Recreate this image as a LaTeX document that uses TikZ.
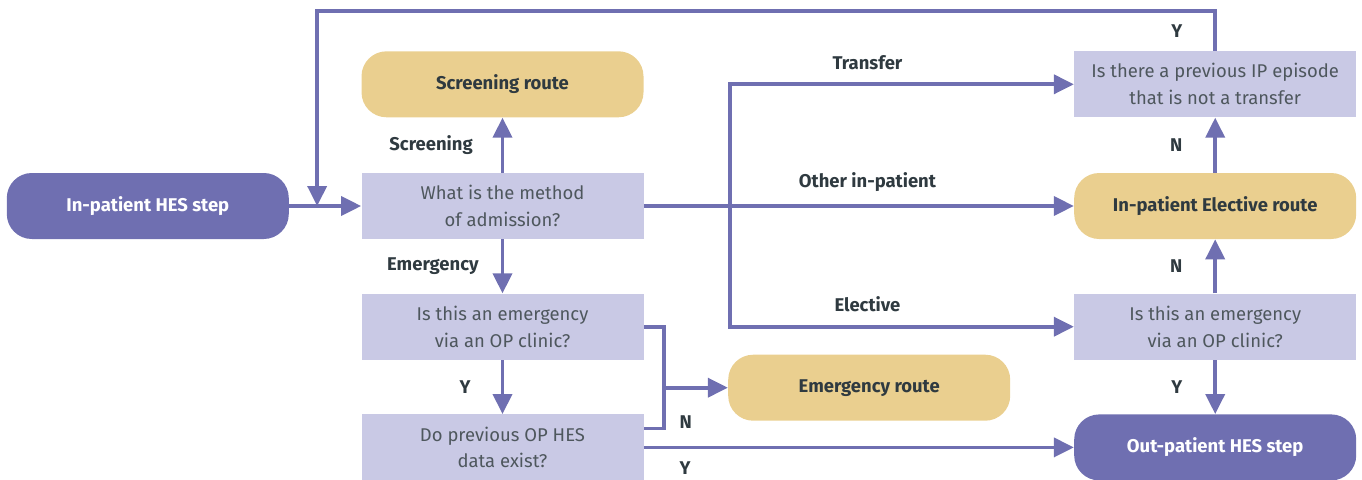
\documentclass[tikz,border=0pt]{standalone}
\usepackage{fontspec}
\setmainfont{Fira Sans}
\usepackage{tikz}
\usetikzlibrary{arrows.meta,positioning}

\definecolor{hespurple}{HTML}{6F6FB1}
\definecolor{qlilac}{HTML}{C9C9E5}
\definecolor{routetan}{HTML}{EACF8F}
\definecolor{labelgrey}{HTML}{2F3A40}

\begin{document}
\begin{tikzpicture}[
    node distance=1.08cm,
    base/.style={rectangle, minimum width=5.64cm, minimum height=1.32cm, inner sep=0pt, align=center, font=\fontsize{10.5}{15.3}\selectfont},
    hes/.style={base, fill=hespurple, rounded corners=0.5cm, text=white, font=\fontsize{10.5}{15.3}\selectfont\bfseries},
    route/.style={base, fill=routetan, rounded corners=0.5cm, text=labelgrey, font=\fontsize{10.5}{15.3}\selectfont\bfseries},
    question/.style={base, fill=qlilac, text=labelgrey!85},
    lbl/.style={inner sep=0pt, text=labelgrey, font=\fontsize{10.5}{12}\selectfont\bfseries},
    conn/.style={draw=hespurple, line width=2.1pt},
    arrow/.style={conn, -{Triangle[length=0.4cm, width=0.38cm]}}
]
    \useasboundingbox (0,0) rectangle (27.24,-9.58);

    % Left column
    \node[question] (method) at (10.05,-4.12) {What is the method\\of admission?};
    \node[hes, left=1.44cm of method] (ipstep) {In-patient HES step};
    \node[route, above=1.1cm of method] (screen) {Screening route};
    \node[question, below=of method] (emq) {Is this an emergency\\via an OP clinic?};
    \node[question, below=of emq] (opq) {Do previous OP HES\\data exist?};

    % Emergency route
    \coordinate (brk) at ([xshift=0.4cm]emq.east);
    \coordinate (brkmid) at ([yshift=-1.22cm]brk);
    \node[route, right=1.28cm of brkmid] (emroute) {Emergency route};

    % Right column
    \node[route, right=8.6cm of method] (elect) {In-patient Elective route};
    \node[question, above=1.1cm of elect] (ipq) {Is there a previous IP episode\\that is not a transfer};
    \node[question, below=of elect] (emq2) {Is this an emergency\\via an OP clinic?};
    \node[hes, below=1.08cm of emq2] (opstep) {Out-patient HES step};

    % Arrows
    \coordinate (loopin) at ([xshift=0.56cm]ipstep.east);
    \coordinate (split) at ([xshift=1.72cm]method.east);
    \draw[arrow] (ipstep) -- (method);
    \draw[arrow] (ipq.north) -- ++(0,0.8) node[lbl, midway, left=0.62cm] {Y} -| (loopin);
    \draw[arrow] (method) -- (screen) node[lbl, midway, left=0.56cm] {Screening};
    \draw[arrow] (method) -- (emq) node[lbl, midway, left=0.44cm] {Emergency};
    \draw[arrow] (emq) -- (opq) node[lbl, midway, left=0.6cm] {Y};
    \draw[conn] (emq.east) -- (brk) |- node[lbl, pos=0.47, right=0.28cm] {N} ([yshift=0.38cm]opq.east);
    \draw[arrow] (brkmid) -- (emroute);
    \draw[arrow] (opq.east) -- (opq.east -| opstep.west) node[lbl, pos=0, anchor=north west, xshift=0.68cm, yshift=-0.24cm] {Y};
    \draw[arrow] (method) -- (elect) node[lbl, pos=0.52, above=0.26cm] {Other in-patient};
    \draw[arrow] (split) |- (ipq) node[lbl, pos=0.7, above=0.26cm] {Transfer};
    \draw[arrow] (split) |- (emq2) node[lbl, pos=0.7, above=0.26cm] {Elective};
    \draw[arrow] (elect) -- (ipq) node[lbl, midway, left=0.62cm] {N};
    \draw[arrow] (emq2) -- (elect) node[lbl, midway, left=0.62cm] {N};
    \draw[arrow] (emq2) -- (opstep) node[lbl, midway, left=0.62cm] {Y};
\end{tikzpicture}
\end{document}
